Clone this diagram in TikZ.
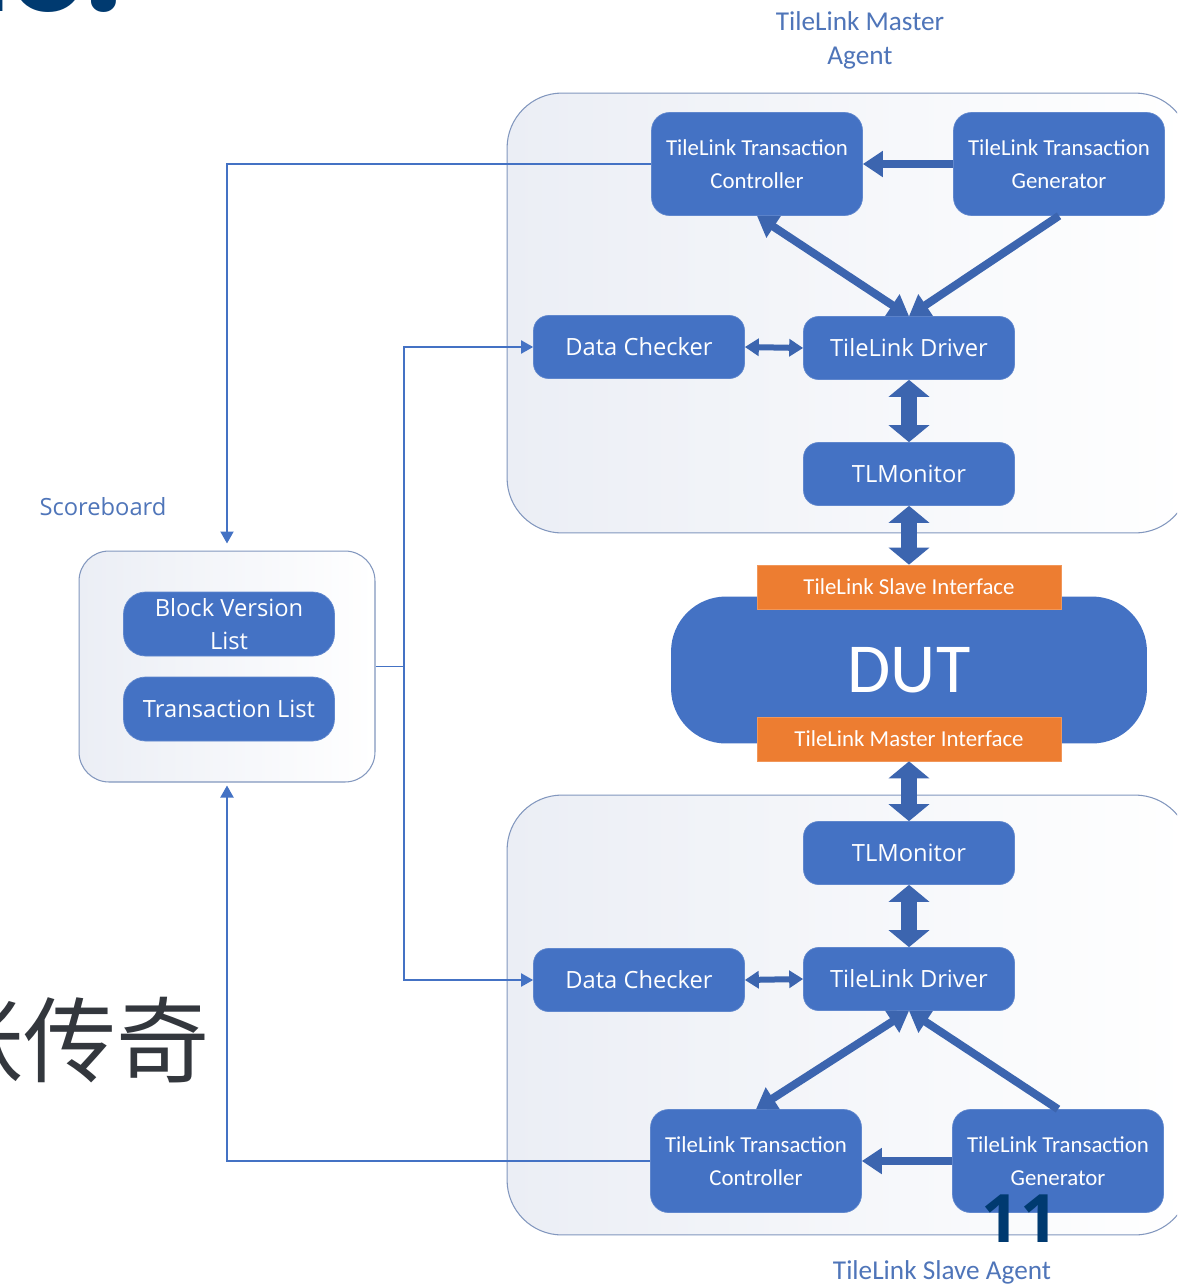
\documentclass[tikz,border=0pt]{standalone}
\usepackage{fontspec}
\setmainfont{Carlito}
\newfontfamily\segoe{Open Sans}
\newfontfamily\cjk{Noto Sans CJK SC}
\newfontfamily\titlefont{Poppins}
\usetikzlibrary{arrows.meta}
\definecolor{boxblue}{HTML}{4472C4}
\definecolor{arrowblue}{HTML}{3C65AF}
\definecolor{edgegray}{HTML}{8297BE}
\definecolor{shadegray}{HTML}{EBEEF5}
\definecolor{ifaceorange}{HTML}{ED7D31}
\definecolor{labelblue}{HTML}{4F75B9}
\definecolor{navy}{HTML}{003A70}
\definecolor{inkgray}{HTML}{33373D}
\begin{document}
\begin{tikzpicture}[x=0.02cm,y=-0.02cm,
  agent/.style={draw=edgegray,line width=0.6pt,rounded corners=1.1cm,left color=shadegray,right color=white,minimum width=13.66cm,minimum height=8.8cm,inner sep=0pt},
  board/.style={draw=edgegray,line width=0.6pt,rounded corners=0.6cm,left color=shadegray,right color=white,minimum width=5.92cm,minimum height=4.62cm,inner sep=0pt},
  bigbox/.style={fill=boxblue,draw=boxblue!85!white,rounded corners=0.36cm,minimum width=4.22cm,minimum height=2.06cm,inner sep=0pt,text=white,align=center,font=\fontsize{13}{18.7}\selectfont},
  smallbox/.style={fill=boxblue,draw=boxblue!85!white,rounded corners=0.3cm,minimum width=4.22cm,minimum height=1.26cm,inner sep=0pt,text=white,font=\segoe\fontsize{13.5}{17}\selectfont},
  listbox/.style={fill=boxblue,draw=boxblue!85!white,rounded corners=0.44cm,minimum width=4.22cm,minimum height=1.28cm,inner sep=0pt,text=white,align=center,font=\segoe\fontsize{13.5}{18.7}\selectfont},
  iface/.style={fill=ifaceorange,draw=ifaceorange!80!white,minimum width=6.08cm,minimum height=0.88cm,inner sep=0pt,text=white,font=\fontsize{13}{16}\selectfont},
  dutbox/.style={fill=boxblue,rounded corners=1.1cm,minimum width=9.52cm,minimum height=2.94cm,inner sep=0pt,text=white,font=\fontsize{40}{44}\selectfont},
  agentlabel/.style={text=labelblue,align=center,font=\fontsize{15.5}{19.3}\selectfont},
  link/.style={draw=boxblue,line width=1.1pt,-{Triangle[width=0.26cm,length=0.24cm]}},
  fat/.style={draw=arrowblue,line width=0.16cm,-{Triangle[width=0.5cm,length=0.4cm]}},
  fatboth/.style={draw=arrowblue,line width=0.16cm,{Triangle[width=0.5cm,length=0.4cm]}-{Triangle[width=0.5cm,length=0.4cm]}},
  slimboth/.style={draw=arrowblue,line width=0.12cm,{Triangle[width=0.34cm,length=0.28cm]}-{Triangle[width=0.34cm,length=0.28cm]}},
  bus/.style={draw=arrowblue,line width=0.32cm,{Triangle[width=0.8cm,length=0.34cm]}-{Triangle[width=0.8cm,length=0.34cm]}}]
\useasboundingbox (0,0) rectangle (1177,1285);
\clip (0,0) rectangle (1177,1285);
\fill[white] (0,0) rectangle (1177,1285);

\node[anchor=base west,inner sep=0pt,text=navy,font=\titlefont\bfseries\fontsize{70}{76}\selectfont] (title) at (-73,11) {ue.};
\node[anchor=east,text=inkgray,font=\cjk\fontsize{53}{58}\selectfont] (author) at (216,1040) {张传奇};

\node[agent] (masteragent) at (848.5,313) {};
\node[agent] (slaveagent) at (848.5,1015) {};
\node[board] (scoreboard) at (227,666.5) {};

\node[agentlabel] (masterlabel) at (860,40) {TileLink Master\\Agent};
\node[agentlabel] (slavelabel) at (942,1272) {TileLink Slave Agent};
\node[text=labelblue,font=\segoe\fontsize{13.5}{17}\selectfont] (boardlabel) at (103,507) {Scoreboard};

\node[dutbox] (dut) at (909,670) {DUT};
\node[iface] (slaveif) at (909,587) {TileLink Slave Interface};
\node[iface] (masterif) at (909,739) {TileLink Master Interface};

\node[bigbox] (mctrl) at (757,164) {TileLink Transaction\\Controller};
\node[bigbox] (mgen) at (1059,164) {TileLink Transaction\\Generator};
\node[smallbox] (mchk) at (639,347) {Data Checker};
\node[smallbox] (mdrv) at (909,348) {TileLink Driver};
\node[smallbox] (mmon) at (909,474) {TLMonitor};

\node[smallbox] (smon) at (909,853) {TLMonitor};
\node[smallbox] (sdrv) at (909,979) {TileLink Driver};
\node[smallbox] (schk) at (639,980) {Data Checker};
\node[bigbox] (sctrl) at (756,1161) {TileLink Transaction\\Controller};
\node[bigbox] (sgen) at (1058,1161) {TileLink Transaction\\Generator};

\node[listbox] (blocklist) at (229,624) {Block Version\\List};
\node[listbox] (translist) at (229,709) {Transaction List};

\coordinate (split) at (404,666.5);
\draw[link,shorten >=0.14cm] (mctrl.west) -| (scoreboard.north);
\draw[link,shorten >=0.06cm] (sctrl.west) -| (scoreboard.south);
\draw[draw=boxblue,line width=1.1pt] (scoreboard.east) -- (split);
\draw[link] (split) |- (mchk.west);
\draw[link] (split) |- (schk.west);

\draw[fat] (mgen.west) -- (mctrl.east);
\draw[fatboth] (mctrl.south) -- (mdrv.north);
\draw[fat] (mgen.south) -- (mdrv.north);
\draw[slimboth] (mchk.east) -- (mdrv.west);
\draw[bus] (mdrv.south) -- (mmon.north);
\draw[bus] (mmon.south) -- (slaveif.north);

\draw[bus] (masterif.south) -- (smon.north);
\draw[bus] (smon.south) -- (sdrv.north);
\draw[slimboth] (schk.east) -- (sdrv.west);
\draw[fatboth] (sctrl.north) -- (sdrv.south);
\draw[fat] (sgen.north) -- (sdrv.south);
\draw[fat] (sgen.west) -- (sctrl.east);

\node[inner sep=0pt,text=navy,font=\segoe\bfseries\fontsize{38}{40}\selectfont] (page) at (1020,1219) {11};
\end{tikzpicture}
\end{document}
